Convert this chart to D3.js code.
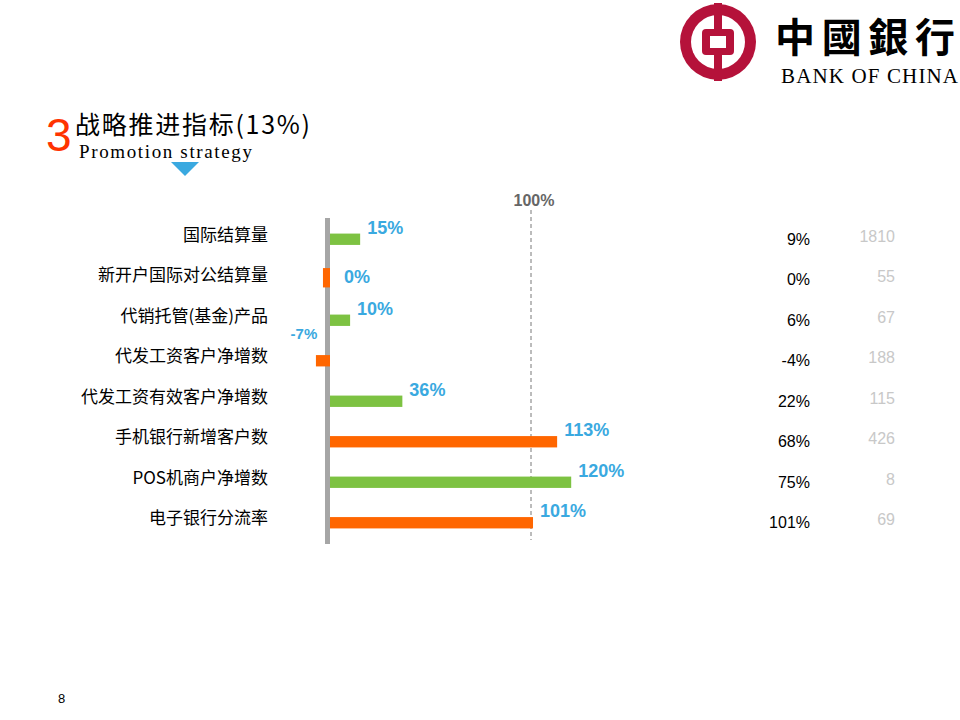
<!DOCTYPE html>
<html><head><meta charset="utf-8">
<script src="https://cdn.jsdelivr.net/npm/d3@7"></script>
<style>body{margin:0;background:#fff}</style></head>
<body><svg id="c" width="960" height="720"></svg>
<script>
const categories=["国际结算量","新开户国际对公结算量","代销托管(基金)产品","代发工资客户净增数","代发工资有效客户净增数","手机银行新增客户数","POS机商户净增数","电子银行分流率"];
const values=[15,0,10,-7,36,113,120,101];
const colColors=["#7dc242","#ff6600","#7dc242","#ff6600","#7dc242","#ff6600","#7dc242","#ff6600"];
const pctCol=["9%","0%","6%","-4%","22%","68%","75%","101%"];
const numCol=["1810","55","67","188","115","426","8","69"];

const svg=d3.select("#c");
const cjk="'Noto Sans CJK SC','Microsoft YaHei',sans-serif";
const x=d3.scaleLinear().domain([0,100]).range([330,531]);
const y=d3.scaleBand().domain(categories).range([219,543]).paddingInner(0.72).paddingOuter(0.36);

// logo
const lg=svg.append("g");
lg.append("circle").attr("cx",718).attr("cy",42).attr("r",38).attr("fill","#b5123a");
lg.append("circle").attr("cx",718).attr("cy",42).attr("r",27).attr("fill","#fff");
lg.append("rect").attr("x",714).attr("y",3).attr("width",8).attr("height",78).attr("fill","#b5123a");
lg.append("rect").attr("x",702).attr("y",29).attr("width",32).attr("height",26).attr("rx",4).attr("fill","#b5123a");
lg.append("rect").attr("x",710).attr("y",36).attr("width",16).attr("height",12).attr("fill","#fff");
svg.append("text").attr("x",775).attr("y",52).attr("font-family",cjk).attr("font-weight","bold").attr("font-size",40).attr("textLength",180).text("中國銀行");
svg.append("text").attr("x",781).attr("y",83).attr("font-family","'Liberation Serif',serif").attr("font-size",21).attr("textLength",177).text("BANK OF CHINA");

// title
svg.append("text").attr("x",46).attr("y",151).attr("fill","#ff3300").attr("font-family","'Liberation Sans',sans-serif").attr("font-size",46).text("3");
svg.append("text").attr("x",75).attr("y",134).attr("font-family",cjk).attr("font-size",25).attr("textLength",235).text("战略推进指标(13%)");
svg.append("text").attr("x",79).attr("y",158).attr("font-family","'Liberation Serif',serif").attr("font-size",19).attr("textLength",173).text("Promotion strategy");
svg.append("path").attr("d","M171,162 L199,162 L185,176 Z").attr("fill","#3aa9e0");

// 100% line
svg.append("line").attr("x1",x(100)).attr("x2",x(100)).attr("y1",210).attr("y2",540).attr("stroke","#555").attr("stroke-dasharray","4,3").attr("stroke-width",0.8);
svg.append("text").attr("x",x(100)+3).attr("y",206).attr("text-anchor","middle").attr("fill","#666").attr("font-weight","bold").attr("font-family","'Liberation Sans',sans-serif").attr("font-size",16).text("100%");

// axis bar
svg.append("rect").attr("x",325).attr("y",218).attr("width",5).attr("height",326).attr("fill","#a6a6a6");

// bars
categories.forEach((c,i)=>{
  const v=values[i];
  const x0=v===0?x(-3.5):x(Math.min(0,v)), x1=v===0?x(0):x(Math.max(0,v));
  svg.append("rect").attr("x",x0).attr("y",v===0?y(c)-6:y(c)).attr("width",x1-x0).attr("height",v===0?y.bandwidth()+8:y.bandwidth()).attr("fill",colColors[i]);
  const lx=v<0?x(v)-12:x(Math.max(v,0))+(v===0?14:7);
  svg.append("text").attr("x",lx).attr("y",v<0?y(c)-16:(v===0?y(c)+9:y(c)))
    .attr("text-anchor",v<0?"middle":"start")
    .attr("fill","#3aa9e0").attr("font-weight","bold").attr("font-family","'Liberation Sans',sans-serif").attr("font-size",v<0?15:18).text(v+"%");
  svg.append("text").attr("x",268).attr("y",y(c)+7).attr("text-anchor","end").attr("font-family",cjk).attr("font-size",17).text(c);
  svg.append("text").attr("x",810).attr("y",y(c)+11).attr("text-anchor","end").attr("font-family","'Liberation Sans',sans-serif").attr("font-size",16).text(pctCol[i]);
  svg.append("text").attr("x",895).attr("y",y(c)+8).attr("text-anchor","end").attr("fill","#c8c8c8").attr("font-family","'Liberation Sans',sans-serif").attr("font-size",16).text(numCol[i]);
});
svg.append("text").attr("x",58).attr("y",703).attr("font-family","'Liberation Sans',sans-serif").attr("font-size",13).text("8");
</script></body></html>
